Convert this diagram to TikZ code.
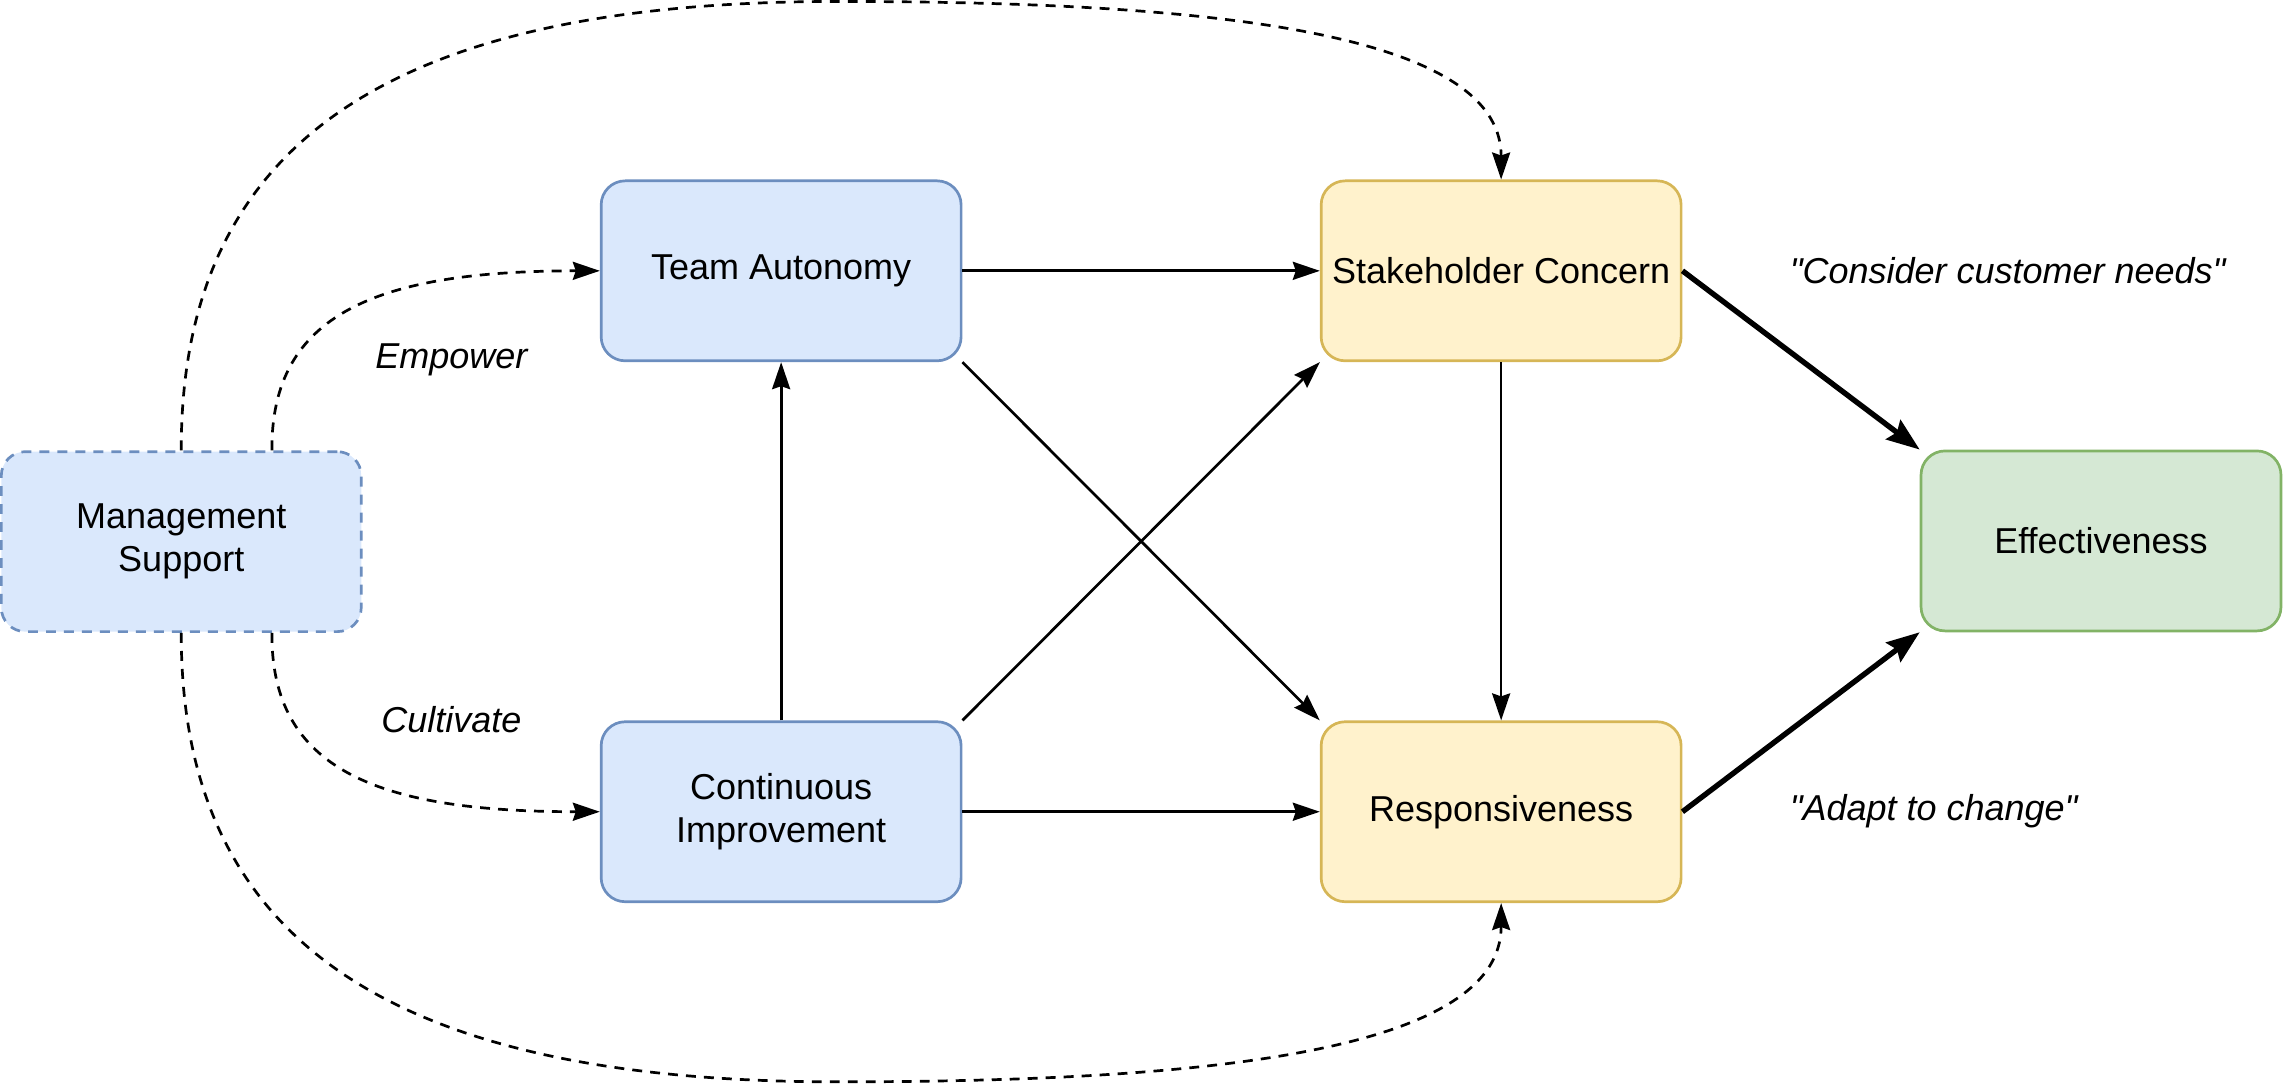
\documentclass[tikz,border=0pt]{standalone}
\usepackage{fontspec}
\setmainfont{Liberation Sans}[Ligatures=TeXOff]
\usetikzlibrary{arrows.meta,calc}

\definecolor{bluefill}{HTML}{DAE8FC}
\definecolor{blueline}{HTML}{6C8EBF}
\definecolor{yellowfill}{HTML}{FFF2CC}
\definecolor{yellowline}{HTML}{D6B656}
\definecolor{greenfill}{HTML}{D5E8D4}
\definecolor{greenline}{HTML}{82B366}

\begin{document}
\begin{tikzpicture}[
  x=0.4854pt, y=-0.4854pt,
  factor/.style={rectangle, rounded corners=8pt, draw, line width=0.9pt, minimum width=120pt, minimum height=60pt, align=center, font=\fontsize{12}{14.4}\selectfont},
  bluefactor/.style={factor, draw=blueline, fill=bluefill},
  yellowfactor/.style={factor, draw=yellowline, fill=yellowfill},
  greenfactor/.style={factor, draw=greenline, fill=greenfill},
  edgetext/.style={font=\fontsize{12}{14.4}\selectfont\itshape},
  solidarrow/.style={-{Stealth[length=9pt,width=6pt,inset=1pt]}, line width=0.9pt},
  thickarrow/.style={-{Stealth[length=11pt,width=8pt,inset=1.5pt]}, line width=1.8pt},
  dashedarrow/.style={solidarrow, dash pattern=on 3.3pt off 2.7pt}
]
\useasboundingbox (0,0) rectangle (1568,744);

% Factor nodes
\node[bluefactor, dash pattern=on 3.3pt off 2.7pt] (ms) at (124.5,372) {Management\\Support};
\node[bluefactor] (ta) at (536.5,186) {Team Autonomy};
\node[bluefactor] (ci) at (536.5,557.5) {Continuous\\Improvement};
\node[yellowfactor] (sc) at (1031,186) {Stakeholder Concern};
\node[yellowfactor] (rs) at (1031,557.5) {Responsiveness};
\node[greenfactor] (ef) at (1443,371.5) {Effectiveness};

% Arrows
\draw[solidarrow] (ta.east) -- (sc.west);
\draw[solidarrow] (ci.north) -- (ta.south);
\draw[solidarrow] (ci.east) -- (rs.west);
\draw[solidarrow] (sc.south) -- (rs.north);
\draw[solidarrow] (ta.south east) -- (rs.north west);
\draw[solidarrow] (ci.north east) -- (sc.south west);
\draw[thickarrow] (sc.east) -- (ef.north west);
\draw[thickarrow] (rs.east) -- (ef.south west);

% Dashed support arrows
\coordinate (arctop) at (575,1);
\coordinate (arcbottom) at (575,743);
\draw[dashedarrow] ($(ms.north)!.5!(ms.north east)$) .. controls (186,215) and (260,186) .. (ta.west);
\draw[dashedarrow] ($(ms.south)!.5!(ms.south east)$) .. controls (186,529) and (260,557.5) .. (ci.west);
\draw[dashedarrow] (ms.north) .. controls (124,90) and (280,1) .. (arctop) .. controls (820,1) and (1031,20) .. (sc.north);
\draw[dashedarrow] (ms.south) .. controls (124,654) and (280,743) .. (arcbottom) .. controls (820,743) and (1031,724) .. (rs.south);

% Edge texts
\node[edgetext] (empower) at (310,247) {Empower};
\node[edgetext] (cultivate) at (310,494) {Cultivate};
\node[edgetext, anchor=west] (needs) at (1222,186) {"Consider customer needs"};
\node[edgetext, anchor=west] (adapt) at (1222,557) {"Adapt to change"};

\end{tikzpicture}
\end{document}
